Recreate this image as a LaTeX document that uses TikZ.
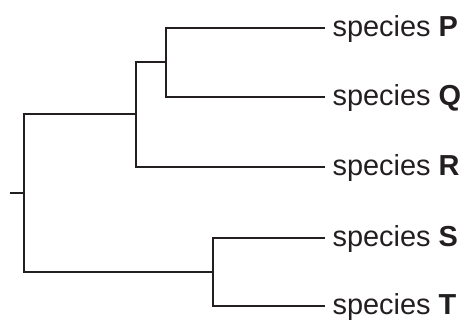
\documentclass[tikz,border=0pt]{standalone}
\usepackage{fontspec}
\setmainfont{Liberation Sans}
\definecolor{ink}{RGB}{35,31,32}

\begin{document}
\begin{tikzpicture}[x=0.75pt,y=-0.75pt,
    leaf/.style={anchor=west,inner xsep=5.5pt,inner ysep=0pt,text height=13pt,text depth=0pt,text=ink,font=\fontsize{21.7}{26}\selectfont},
    branch/.style={ink,line width=2.1pt}]
  \useasboundingbox (0,0) rectangle (465,320);

  \coordinate (stub) at (10,193);
  \coordinate (root) at (24,193);
  \coordinate (pqr) at (136,114);
  \coordinate (pq) at (166,62);
  \coordinate (st) at (213,272);

  \node[leaf] (P) at (325,28) {species \textbf{P}};
  \node[leaf] (Q) at (325,97) {species \textbf{Q}};
  \node[leaf] (R) at (325,167) {species \textbf{R}};
  \node[leaf] (S) at (325,238) {species \textbf{S}};
  \node[leaf] (T) at (325,306) {species \textbf{T}};

  \draw[branch] (stub) -- (root);
  \draw[branch] (pqr) -| (root) |- (st);
  \draw[branch] (pq) -| (pqr) |- (R.west);
  \draw[branch] (P.west) -| (pq) |- (Q.west);
  \draw[branch] (S.west) -| (st) |- (T.west);
\end{tikzpicture}
\end{document}
